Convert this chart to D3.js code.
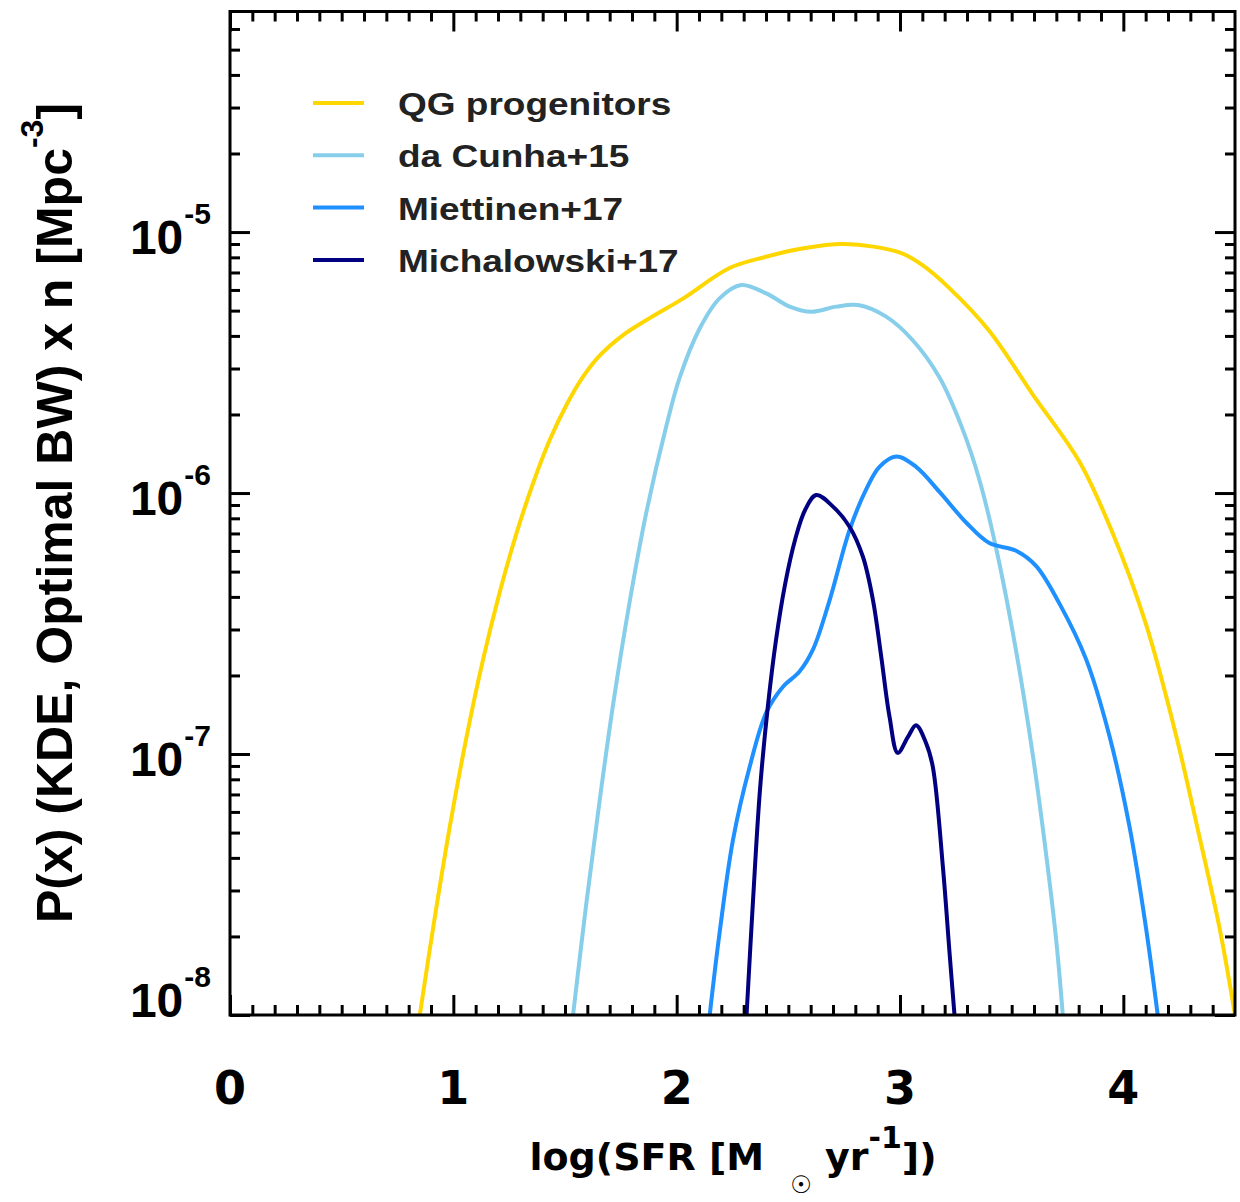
<!DOCTYPE html>
<html>
<head>
<meta charset="utf-8">
<script src="https://cdn.jsdelivr.net/npm/d3@7"></script>
<style>
  html, body { margin: 0; padding: 0; background: #fff; }
  svg { display: block; }
</style>
</head>
<body>
<svg id="chart" width="1240" height="1202"></svg>
<script>
// Series labels and colours
const seriesNames = ["QG progenitors", "da Cunha+15", "Miettinen+17", "Michalowski+17"];
const seriesColors = ["#FFD700", "#87CEEB", "#1E90FF", "#000080"];

// KDE curves: log(SFR) samples and P(x) x n values [Mpc^-3]
const qgX = [0.85, 0.91, 0.984, 1.059, 1.133, 1.208, 1.283, 1.357, 1.432, 1.506, 1.581, 1.655, 1.760, 1.879, 2.028, 2.237, 2.40, 2.55, 2.75, 3.0, 3.102, 3.221, 3.40, 3.594, 3.803, 3.952, 4.101, 4.236, 4.34, 4.43, 4.5];
const qgY = [1.0e-8, 2.17e-8, 5.26e-8, 1.16e-7, 2.30e-7, 4.18e-7, 7.02e-7, 1.09e-6, 1.60e-6, 2.17e-6, 2.79e-6, 3.36e-6, 4.03e-6, 4.68e-6, 5.56e-6, 7.28e-6, 8.04e-6, 8.61e-6, 9.00e-6, 8.34e-6, 7.45e-6, 6.10e-6, 4.18e-6, 2.39e-6, 1.32e-6, 7.03e-7, 3.15e-7, 1.18e-7, 4.85e-8, 2.17e-8, 1.0e-8];

const dcX = [1.536, 1.596, 1.655, 1.715, 1.790, 1.864, 1.954, 2.013, 2.103, 2.192, 2.289, 2.401, 2.506, 2.603, 2.715, 2.812, 2.938, 3.057, 3.177, 3.281, 3.356, 3.430, 3.520, 3.594, 3.654, 3.699, 3.729];
const dcY = [1.0e-8, 2.70e-8, 6.62e-8, 1.54e-7, 3.85e-7, 8.41e-7, 1.81e-6, 2.76e-6, 4.27e-6, 5.57e-6, 6.27e-6, 5.82e-6, 5.18e-6, 4.95e-6, 5.18e-6, 5.25e-6, 4.74e-6, 3.85e-6, 2.77e-6, 1.75e-6, 1.12e-6, 6.17e-7, 2.48e-7, 1.00e-7, 4.15e-8, 1.95e-8, 1.0e-8];

const miX = [2.148, 2.192, 2.252, 2.327, 2.401, 2.476, 2.550, 2.610, 2.685, 2.774, 2.848, 2.908, 2.983, 3.072, 3.177, 3.296, 3.400, 3.520, 3.609, 3.714, 3.833, 3.937, 4.027, 4.101, 4.154];
const miY = [1.0e-8, 2.06e-8, 4.68e-8, 8.93e-8, 1.44e-7, 1.81e-7, 2.07e-7, 2.51e-7, 3.89e-7, 7.21e-7, 1.03e-6, 1.26e-6, 1.38e-6, 1.26e-6, 1.01e-6, 7.71e-7, 6.43e-7, 6.01e-7, 5.26e-7, 3.77e-7, 2.31e-7, 1.18e-7, 5.30e-8, 2.17e-8, 1.0e-8];

const mcX = [2.313, 2.342, 2.373, 2.409, 2.445, 2.485, 2.530, 2.575, 2.625, 2.700, 2.774, 2.834, 2.879, 2.916, 2.953, 2.990, 3.035, 3.072, 3.117, 3.147, 3.192, 3.221, 3.244];
const mcY = [1.0e-8, 2.76e-8, 7.28e-8, 1.54e-7, 2.74e-7, 4.45e-7, 6.61e-7, 8.61e-7, 9.82e-7, 8.87e-7, 7.43e-7, 5.70e-7, 3.89e-7, 2.36e-7, 1.39e-7, 1.01e-7, 1.16e-7, 1.29e-7, 1.10e-7, 8.93e-8, 3.70e-8, 1.77e-8, 1.0e-8];

// Axis ticks
const xMajorTicks = [0, 1, 2, 3, 4];
const xTickLabels = ["0", "1", "2", "3", "4"];
const yMajorTicks = [1e-8, 1e-7, 1e-6, 1e-5];
const yTickExponents = ["-8", "-7", "-6", "-5"];

const xDomain = [0, 4.5];
const yDomain = [1e-8, 7e-5];

const series = [
  { name: seriesNames[0], color: seriesColors[0], xs: qgX, ys: qgY },
  { name: seriesNames[1], color: seriesColors[1], xs: dcX, ys: dcY },
  { name: seriesNames[2], color: seriesColors[2], xs: miX, ys: miY },
  { name: seriesNames[3], color: seriesColors[3], xs: mcX, ys: mcY }
];

const svg = d3.select("#chart");
svg.append("rect").attr("width", 1240).attr("height", 1202).attr("fill", "#fff");

const plot = { left: 230, right: 1235, top: 11.5, bottom: 1015 };

const x = d3.scaleLinear().domain(xDomain).range([plot.left, plot.right]);
const y = d3.scaleLog().domain(yDomain).range([plot.bottom, plot.top]);

const DEJAVU = "'DejaVu Sans', sans-serif";
const LIB = "'Liberation Sans', Arial, sans-serif";

// Clip curves to the plotting frame
svg.append("defs").append("clipPath").attr("id", "plotClip")
  .append("rect")
  .attr("x", plot.left).attr("y", plot.top)
  .attr("width", plot.right - plot.left).attr("height", plot.bottom - plot.top);

const line = d3.line()
  .x(d => x(d[0]))
  .y(d => y(d[1]))
  .curve(d3.curveCatmullRom.alpha(0.5));

const curves = svg.append("g").attr("clip-path", "url(#plotClip)");
series.forEach(s => {
  const pts = s.xs.map((v, i) => [v, s.ys[i]]);
  curves.append("path")
    .datum(pts)
    .attr("d", line)
    .attr("fill", "none")
    .attr("stroke", s.color)
    .attr("stroke-width", 4)
    .attr("stroke-linejoin", "round");
});

// Minor ticks
const xMinorTicks = d3.range(1, 45).map(i => i / 10).filter(v => Math.abs(v - Math.round(v)) > 1e-6);
const yMinorTicks = [];
[-8, -7, -6, -5].forEach(e => {
  for (let k = 2; k <= 9; k++) {
    const v = k * Math.pow(10, e);
    if (v < yDomain[1]) yMinorTicks.push(v);
  }
});

function styleAxis(g) {
  g.select(".domain").remove();
  g.selectAll(".tick line").attr("stroke", "#000").attr("stroke-width", 3);
  g.selectAll(".tick text").remove();
}

// Bottom and top axes (ticks pointing inward)
svg.append("g").attr("transform", `translate(0,${plot.bottom})`)
  .call(d3.axisBottom(x).tickValues(xMajorTicks).tickSizeInner(-20).tickSizeOuter(0).tickFormat(""))
  .call(styleAxis);
svg.append("g").attr("transform", `translate(0,${plot.bottom})`)
  .call(d3.axisBottom(x).tickValues(xMinorTicks).tickSizeInner(-10).tickSizeOuter(0).tickFormat(""))
  .call(styleAxis);
svg.append("g").attr("transform", `translate(0,${plot.top})`)
  .call(d3.axisTop(x).tickValues(xMajorTicks).tickSizeInner(-20).tickSizeOuter(0).tickFormat(""))
  .call(styleAxis);
svg.append("g").attr("transform", `translate(0,${plot.top})`)
  .call(d3.axisTop(x).tickValues(xMinorTicks).tickSizeInner(-10).tickSizeOuter(0).tickFormat(""))
  .call(styleAxis);

// Left and right axes
svg.append("g").attr("transform", `translate(${plot.left},0)`)
  .call(d3.axisLeft(y).tickValues(yMajorTicks).tickSizeInner(-20).tickSizeOuter(0).tickFormat(""))
  .call(styleAxis);
svg.append("g").attr("transform", `translate(${plot.left},0)`)
  .call(d3.axisLeft(y).tickValues(yMinorTicks).tickSizeInner(-10).tickSizeOuter(0).tickFormat(""))
  .call(styleAxis);
svg.append("g").attr("transform", `translate(${plot.right},0)`)
  .call(d3.axisRight(y).tickValues(yMajorTicks).tickSizeInner(-20).tickSizeOuter(0).tickFormat(""))
  .call(styleAxis);
svg.append("g").attr("transform", `translate(${plot.right},0)`)
  .call(d3.axisRight(y).tickValues(yMinorTicks).tickSizeInner(-10).tickSizeOuter(0).tickFormat(""))
  .call(styleAxis);

// Frame
svg.append("rect")
  .attr("x", plot.left).attr("y", plot.top)
  .attr("width", plot.right - plot.left).attr("height", plot.bottom - plot.top)
  .attr("fill", "none").attr("stroke", "#000").attr("stroke-width", 3);

// X tick labels
svg.append("g").selectAll("text")
  .data(xMajorTicks)
  .join("text")
  .attr("x", d => x(d))
  .attr("y", 1104)
  .attr("text-anchor", "middle")
  .attr("font-family", DEJAVU)
  .attr("font-weight", "bold")
  .attr("font-size", 46)
  .attr("fill", "#000")
  .text((d, i) => xTickLabels[i]);

// Y tick labels as powers of ten
const yLab = svg.append("g").selectAll("text")
  .data(yMajorTicks)
  .join("text")
  .attr("x", 211)
  .attr("y", d => Math.min(y(d) + 22, 1017))
  .attr("text-anchor", "end")
  .attr("font-family", LIB)
  .attr("font-weight", "bold")
  .attr("font-size", 48)
  .attr("fill", "#000");
yLab.append("tspan").text("10");
yLab.append("tspan")
  .attr("font-size", 30)
  .attr("dx", 1)
  .attr("dy", -30)
  .text((d, i) => yTickExponents[i]);

// X axis title
const xt = svg.append("text")
  .attr("x", 733)
  .attr("y", 1170)
  .attr("text-anchor", "middle")
  .attr("font-family", DEJAVU)
  .attr("font-weight", "bold")
  .attr("font-size", 38)
  .attr("fill", "#000");
xt.append("tspan").text("log(SFR [M");
xt.append("tspan").attr("font-size", 24).attr("font-weight", "normal").attr("dx", 26).attr("dy", 23).text("\u2609");
xt.append("tspan").attr("dy", -23).text(" yr");
xt.append("tspan").attr("font-size", 30).attr("dy", -22).text("-1");
xt.append("tspan").attr("dy", 22).text("])");

// Y axis title
const yt = svg.append("text")
  .attr("transform", "translate(72,513) rotate(-90)")
  .attr("text-anchor", "middle")
  .attr("font-family", LIB)
  .attr("font-weight", "bold")
  .attr("font-size", 50)
  .attr("fill", "#000");
yt.append("tspan").text("P(x) (KDE, Optimal BW) x n [Mpc");
yt.append("tspan").attr("font-size", 32).attr("dy", -29).text("-3");
yt.append("tspan").attr("dy", 29).text("]");

// Legend
const legend = svg.append("g");
series.forEach((s, i) => {
  const ly = 103 + i * 52.3;
  legend.append("line")
    .attr("x1", 313).attr("x2", 364)
    .attr("y1", ly).attr("y2", ly)
    .attr("stroke", s.color).attr("stroke-width", 4);
  legend.append("text")
    .attr("transform", `translate(398,${ly + 12}) scale(1,0.86)`)
    .attr("font-family", LIB)
    .attr("font-weight", "bold")
    .attr("font-size", 37)
    .attr("fill", "#222")
    .text(s.name);
});
</script>
</body>
</html>
